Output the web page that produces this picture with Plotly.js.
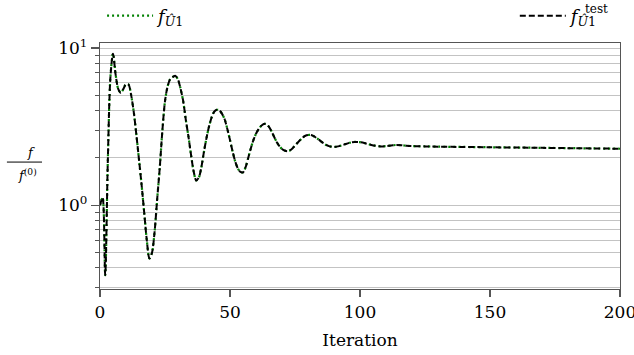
<!DOCTYPE html>
<html>
<head>
<meta charset="utf-8">
<script src="https://cdn.plot.ly/plotly-3.0.1.min.js"></script>
<style>html,body{margin:0;padding:0;background:#fff;}#chart{width:634px;height:355px;}</style>
</head>
<body>
<div id="chart"></div>
<script>
// Iteration numbers
const iterations = [0,1,2,3,4,5,6,7,8,9,10,11,12,13,14,15,16,17,18,19,20,21,22,23,24,25,26,27,28,29,30,
  31,32,33,34,35,36,37,38,39,40,41,42,43,44,45,46,47,48,49,50,51,52,53,54,55,56,57,58,59,60,
  61,62,63,64,65,66,67,68,69,70,71,72,73,74,75,76,77,78,79,80,81,82,83,84,85,86,87,88,89,90,
  92,94,96,98,100,102,104,106,108,110,112,114,116,118,120,125,130,140,150,160,170,180,190,200];
// f / f(0) for f_{Û1}
const fValues = [1.0,1.12,0.36,1.9,6.5,9.2,6.8,5.5,5.2,5.5,5.9,5.85,5.0,3.9,2.8,1.95,1.35,0.9,0.6,0.46,0.5,0.68,1.1,1.75,3.0,4.6,5.7,6.35,6.55,6.65,6.3,
  5.5,4.6,3.5,2.75,2.1,1.65,1.44,1.5,1.75,2.2,2.7,3.2,3.65,3.95,4.05,4.0,3.8,3.5,3.05,2.6,2.2,1.9,1.72,1.63,1.62,1.75,2.0,2.3,2.6,2.85,
  3.05,3.2,3.29,3.28,3.15,2.95,2.72,2.52,2.38,2.28,2.23,2.21,2.23,2.3,2.4,2.5,2.6,2.7,2.77,2.8,2.8,2.76,2.7,2.63,2.55,2.48,2.42,2.38,2.36,2.35,
  2.38,2.44,2.5,2.53,2.52,2.48,2.43,2.39,2.37,2.38,2.40,2.42,2.41,2.39,2.38,2.37,2.36,2.35,2.34,2.33,2.32,2.31,2.30,2.29];
// f^test / f(0) for f^test_{Û1} (indistinguishable from the training curve in the picture)
const fTestValues = [1.0,1.12,0.36,1.9,6.5,9.2,6.8,5.5,5.2,5.5,5.9,5.85,5.0,3.9,2.8,1.95,1.35,0.9,0.6,0.46,0.5,0.68,1.1,1.75,3.0,4.6,5.7,6.35,6.55,6.65,6.3,
  5.5,4.6,3.5,2.75,2.1,1.65,1.44,1.5,1.75,2.2,2.7,3.2,3.65,3.95,4.05,4.0,3.8,3.5,3.05,2.6,2.2,1.9,1.72,1.63,1.62,1.75,2.0,2.3,2.6,2.85,
  3.05,3.2,3.29,3.28,3.15,2.95,2.72,2.52,2.38,2.28,2.23,2.21,2.23,2.3,2.4,2.5,2.6,2.7,2.77,2.8,2.8,2.76,2.7,2.63,2.55,2.48,2.42,2.38,2.36,2.35,
  2.38,2.44,2.5,2.53,2.52,2.48,2.43,2.39,2.37,2.38,2.40,2.42,2.41,2.39,2.38,2.37,2.36,2.35,2.34,2.33,2.32,2.31,2.30,2.29];

const xTicks = [0,50,100,150,200];
const yMajorTicks = [1,10];
const yMajorLabels = ['10<sup>0</sup>','10<sup>1</sup>'];
const yMinorTicks = [0.3,0.4,0.5,0.6,0.7,0.8,0.9,2,3,4,5,6,7,8,9];

const FONT = 'DejaVu Serif, serif';
const AX = '#555555';
const GRID = '#b4b4b4';
const LABEL = '<i>f</i><sub><i>Û</i>1</sub>';

const traces = [
  {x: iterations, y: fValues, type: 'scatter', mode: 'lines',
   name: LABEL,
   line: {color: '#008000', width: 2.2, dash: '2px,3px', shape: 'spline', smoothing: 0.8},
   legend: 'legend'},
  {x: iterations, y: fTestValues, type: 'scatter', mode: 'lines',
   name: LABEL,
   line: {color: '#000000', width: 2, dash: '6px,3px', shape: 'spline', smoothing: 0.8},
   legend: 'legend2'}
];

const layout = {
  width: 634, height: 355,
  margin: {l: 100, r: 14, t: 43, b: 66},
  paper_bgcolor: '#fff', plot_bgcolor: '#fff',
  font: {family: FONT, size: 17, color: '#000'},
  showlegend: true,
  legend: {xref: 'container', yref: 'container', x: 0.161, xanchor: 'left', y: 0.955, yanchor: 'middle',
           orientation: 'h', itemwidth: 46, bgcolor: 'rgba(0,0,0,0)', font: {family: FONT, size: 18}},
  legend2: {xref: 'container', yref: 'container', x: 0.812, xanchor: 'left', y: 0.955, yanchor: 'middle',
            orientation: 'h', itemwidth: 46, bgcolor: 'rgba(0,0,0,0)', font: {family: FONT, size: 18}},
  xaxis: {
    range: [0, 200], tickmode: 'array', tickvals: xTicks,
    ticks: 'outside', ticklen: 7, tickwidth: 1.2, tickcolor: AX,
    ticklabeloverflow: 'allow',
    showgrid: false, zeroline: false,
    showline: true, linecolor: AX, linewidth: 1.2, mirror: true,
    tickfont: {family: FONT, size: 17},
    title: {text: 'Iteration', font: {family: FONT, size: 17}, standoff: 13}
  },
  yaxis: {
    type: 'log', range: [Math.log10(0.294), Math.log10(10.76)],
    tickmode: 'array', tickvals: yMajorTicks, ticktext: yMajorLabels,
    ticks: 'outside', ticklen: 8, tickwidth: 1.2, tickcolor: AX,
    showgrid: true, gridcolor: GRID, gridwidth: 0.8,
    zeroline: false,
    showline: true, linecolor: AX, linewidth: 1.2, mirror: true,
    tickfont: {family: FONT, size: 17},
    minor: {tickmode: 'array', tickvals: yMinorTicks, ticks: 'outside', ticklen: 4,
            tickwidth: 1, tickcolor: AX, showgrid: true, gridcolor: GRID, gridwidth: 0.8}
  },
  annotations: [
    {xref: 'paper', yref: 'paper', x: -0.133, y: 0.553, text: '<i>f</i>', showarrow: false,
     font: {family: FONT, size: 13}, xanchor: 'center', yanchor: 'middle'},
    {xref: 'paper', yref: 'paper', x: -0.14, y: 0.465, text: '<i>f</i><sup>(0)</sup>', showarrow: false,
     font: {family: FONT, size: 13}, xanchor: 'center', yanchor: 'middle'},
    {xref: 'paper', yref: 'paper', x: 0.929, y: 1.14, text: 'test', showarrow: false,
     font: {family: FONT, size: 12}, xanchor: 'left', yanchor: 'middle'}
  ],
  shapes: [
    {type: 'line', xref: 'paper', yref: 'paper', x0: -0.179, x1: -0.1115, y0: 0.516, y1: 0.516,
     line: {color: '#000', width: 1}}
  ]
};

Plotly.newPlot('chart', traces, layout, {displayModeBar: false, staticPlot: true});
</script>
</body>
</html>
